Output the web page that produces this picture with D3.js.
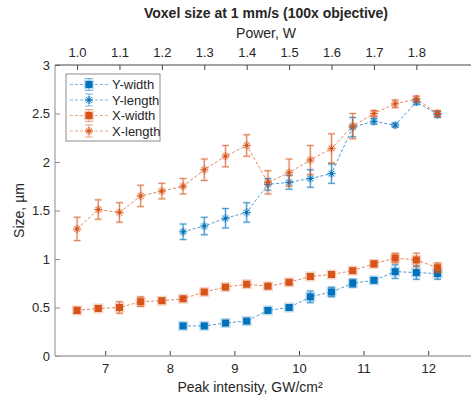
<!DOCTYPE html>
<html>
<head>
<meta charset="utf-8">
<script src="https://cdn.jsdelivr.net/npm/d3@7"></script>
<style>
  body { margin: 0; background: #fff; }
  text { font-family: "Liberation Sans", Arial, sans-serif; fill: #262626; }
</style>
</head>
<body>
<div id="chart"></div>
<script>
// power values (top axis), one per measurement
var power = [1.00, 1.05, 1.10, 1.15, 1.20, 1.25, 1.30, 1.35, 1.40,
             1.45, 1.50, 1.55, 1.60, 1.65, 1.70, 1.75, 1.80, 1.85];

// Y series start at 1.25 W
var yWidth     = [null, null, null, null, null, 0.31, 0.31, 0.34, 0.36, 0.47, 0.50, 0.61, 0.66, 0.75, 0.78, 0.87, 0.86, 0.85];
var yWidthErr  = [0, 0, 0, 0, 0, 0.02, 0.02, 0.02, 0.02, 0.02, 0.02, 0.06, 0.05, 0.04, 0.02, 0.07, 0.07, 0.06];
var yLength    = [null, null, null, null, null, 1.28, 1.34, 1.42, 1.48, 1.77, 1.79, 1.83, 1.88, 2.36, 2.42, 2.38, 2.62, 2.49];
var yLengthErr = [0, 0, 0, 0, 0, 0.08, 0.09, 0.10, 0.10, 0.06, 0.07, 0.09, 0.10, 0.10, 0.03, 0.02, 0.03, 0.03];
var xWidth     = [0.47, 0.49, 0.50, 0.56, 0.57, 0.59, 0.66, 0.71, 0.74, 0.72, 0.76, 0.82, 0.84, 0.88, 0.95, 1.01, 0.99, 0.91];
var xWidthErr  = [0.03, 0.02, 0.06, 0.05, 0.02, 0.02, 0.02, 0.02, 0.02, 0.02, 0.02, 0.02, 0.02, 0.02, 0.03, 0.05, 0.07, 0.05];
var xLength    = [1.31, 1.51, 1.48, 1.65, 1.70, 1.75, 1.92, 2.06, 2.17, 1.79, 1.89, 2.02, 2.14, 2.37, 2.50, 2.60, 2.65, 2.50];
var xLengthErr = [0.12, 0.10, 0.10, 0.11, 0.08, 0.08, 0.11, 0.11, 0.11, 0.12, 0.14, 0.15, 0.15, 0.13, 0.03, 0.04, 0.03, 0.03];

var powerTicks = [1.0, 1.1, 1.2, 1.3, 1.4, 1.5, 1.6, 1.7, 1.8];
var intensityTicks = [7, 8, 9, 10, 11, 12];
var sizeTicks = [0, 0.5, 1, 1.5, 2, 2.5, 3];
var gwPerWatt = 6.565; // peak intensity per watt

var series = [
  {name: "Y-width",  values: yWidth,  err: yWidthErr,  color: "#0072BD", marker: "square"},
  {name: "Y-length", values: yLength, err: yLengthErr, color: "#0072BD", marker: "star"},
  {name: "X-width",  values: xWidth,  err: xWidthErr,  color: "#D95319", marker: "square"},
  {name: "X-length", values: xLength, err: xLengthErr, color: "#D95319", marker: "star"}
];

var W = 471, H = 400;
var margin = {top: 65, left: 55, bottom: 44};
var plotRight = 477;

var svg = d3.select("#chart").append("svg")
  .attr("width", W).attr("height", H);

var x = d3.scaleLinear().domain([0.948, 1.943]).range([margin.left, plotRight]);
var xi = d3.scaleLinear().domain([0.948 * gwPerWatt, 1.943 * gwPerWatt]).range([margin.left, plotRight]);
var y = d3.scaleLinear().domain([0, 3]).range([H - margin.bottom, margin.top]);

var axisColor = "#8c8c8c";

// left axis
var gy = svg.append("g")
  .attr("transform", "translate(" + margin.left + ",0)")
  .call(d3.axisRight(y).tickValues(sizeTicks).tickSize(5).tickFormat(d3.format("")));
gy.select(".domain").remove();
gy.selectAll("text").attr("x", -5).style("text-anchor", "end").style("font-size", "13px");
gy.selectAll("line").attr("stroke", axisColor);
svg.append("line").attr("x1", margin.left).attr("x2", margin.left)
  .attr("y1", y(0)).attr("y2", y(3)).attr("stroke", axisColor);

// bottom axis
var gb = svg.append("g")
  .attr("transform", "translate(0," + y(0) + ")")
  .call(d3.axisTop(xi).tickValues(intensityTicks).tickSize(5).tickFormat(d3.format("d")));
gb.select(".domain").remove();
gb.selectAll("text").attr("y", 17).style("font-size", "13px");
gb.selectAll("line").attr("stroke", "#444");
svg.append("line").attr("x1", margin.left).attr("x2", W)
  .attr("y1", y(0)).attr("y2", y(0)).attr("stroke", "#a6a6a6").attr("stroke-width", 1.5);

// top axis (power)
var gt = svg.append("g")
  .attr("transform", "translate(0," + y(3) + ")")
  .call(d3.axisBottom(x).tickValues(powerTicks).tickSize(5).tickFormat(d3.format(".1f")));
gt.select(".domain").remove();
gt.selectAll("text").attr("y", -8).attr("dy", 0).style("font-size", "13px");
gt.selectAll("line").attr("stroke", "#444");
svg.append("line").attr("x1", margin.left).attr("x2", W)
  .attr("y1", y(3)).attr("y2", y(3)).attr("stroke", "#444");

// titles
var midX = (margin.left + plotRight) / 2;
svg.append("text").attr("x", midX).attr("y", 18)
  .attr("text-anchor", "middle").style("font-size", "14px").style("font-weight", "bold")
  .text("Voxel size at 1 mm/s (100x objective)");
svg.append("text").attr("x", midX).attr("y", 38)
  .attr("text-anchor", "middle").style("font-size", "14px")
  .text("Power, W");
svg.append("text").attr("x", 250).attr("y", 392)
  .attr("text-anchor", "middle").style("font-size", "14px")
  .text("Peak intensity, GW/cm²");
svg.append("text")
  .attr("transform", "translate(24," + ((y(0) + y(3)) / 2) + ") rotate(-90)")
  .attr("text-anchor", "middle").style("font-size", "14px")
  .text("Size, µm");

// marker drawing
function drawMarker(g, type, color) {
  if (type === "square") {
    g.append("rect").attr("x", -5).attr("y", -5).attr("width", 10).attr("height", 10)
      .attr("fill", color).attr("opacity", 0.25);
    g.append("rect").attr("x", -3.5).attr("y", -3.5).attr("width", 7).attr("height", 7)
      .attr("fill", color);
  } else {
    var s = 4;
    var p = "M" + (-s) + ",0L" + s + ",0M0," + (-s) + "L0," + s +
            "M" + (-s * 0.7) + "," + (-s * 0.7) + "L" + (s * 0.7) + "," + (s * 0.7) +
            "M" + (-s * 0.7) + "," + (s * 0.7) + "L" + (s * 0.7) + "," + (-s * 0.7);
    g.append("path").attr("d", p).attr("stroke", color).attr("stroke-width", 3).attr("opacity", 0.2);
    g.append("path").attr("d", p).attr("stroke", color).attr("stroke-width", 0.8);
    g.append("circle").attr("r", 1.6).attr("fill", color);
  }
}

var line = d3.line()
  .defined(d => d.v != null)
  .x(d => x(d.p))
  .y(d => y(d.v));

var plot = svg.append("g");

series.forEach(function(s) {
  var pts = power.map((p, i) => ({p: p, v: s.values[i], e: s.err[i]})).filter(d => d.v != null);

  plot.append("path")
    .attr("d", line(pts))
    .attr("fill", "none")
    .attr("stroke", s.color)
    .attr("stroke-opacity", 0.7)
    .attr("stroke-width", 1)
    .attr("stroke-dasharray", "3,2");

  var eb = plot.selectAll(null).data(pts).enter().append("g")
    .attr("transform", d => "translate(" + x(d.p) + ",0)");
  [[2.5, 0.2], [1, 0.65]].forEach(function(st) {
    eb.append("path")
      .attr("d", d => "M0," + y(d.v - d.e) + "V" + y(d.v + d.e) +
        "M-3.5," + y(d.v - d.e) + "H3.5M-3.5," + y(d.v + d.e) + "H3.5")
      .attr("stroke", s.color).attr("stroke-width", st[0]).attr("stroke-opacity", st[1])
      .attr("fill", "none");
  });

  plot.selectAll(null).data(pts).enter().append("g")
    .attr("transform", d => "translate(" + x(d.p) + "," + y(d.v) + ")")
    .each(function() { drawMarker(d3.select(this), s.marker, s.color); });
});

// legend
var lg = svg.append("g").attr("transform", "translate(66,74)");
lg.append("rect").attr("width", 94).attr("height", 67)
  .attr("fill", "#fff").attr("stroke", "#8c8c8c");
series.forEach(function(s, i) {
  var row = lg.append("g").attr("transform", "translate(0," + (10.5 + i * 15.5) + ")");
  row.append("line").attr("x1", 4).attr("x2", 42).attr("y1", 0).attr("y2", 0)
    .attr("stroke", s.color).attr("stroke-opacity", 0.5).attr("stroke-dasharray", "3,2");
  row.append("path").attr("d", "M23,-6V6M19,-6H27M19,6H27")
    .attr("stroke", s.color).attr("stroke-opacity", 0.5).attr("fill", "none");
  drawMarker(row.append("g").attr("transform", "translate(23,0)"), s.marker, s.color);
  row.append("text").attr("x", 46).attr("y", 4.5).style("font-size", "13px").text(s.name);
});
</script>
</body>
</html>
